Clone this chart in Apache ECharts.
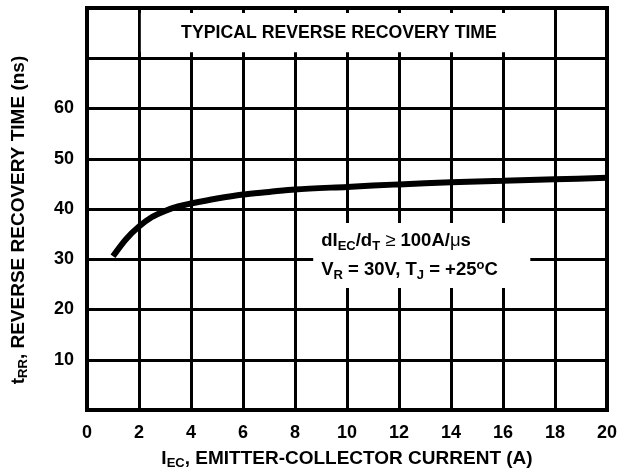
<!DOCTYPE html>
<html>
<head>
<meta charset="utf-8">
<script src="https://cdn.jsdelivr.net/npm/echarts@6/dist/echarts.min.js"></script>
<style>
  html, body { margin: 0; padding: 0; background: #fff; }
  #chart { width: 627px; height: 475px; }
</style>
</head>
<body>
<div id="chart"></div>
<script>
  // I_EC (A) vs t_RR (ns)
  var currentA = [1, 1.5, 2, 2.5, 3, 3.5, 4, 5, 6, 7, 8, 10, 12, 14, 16, 18, 20]
  var trrNs = [30.6, 34.0, 36.5, 38.4, 39.6, 40.5, 41.1, 42.1, 42.9, 43.4, 43.9, 44.4, 44.9, 45.3, 45.6, 45.9, 46.2]
  var yLabels = [10, 20, 30, 40, 50, 60]

  var font = '"Liberation Sans", Arial, sans-serif'
  var sub = { fontSize: 13, fontWeight: 'bold', fontFamily: font, color: '#000', padding: [10, 0, 0, 0] }
  var sup = { fontSize: 13, fontWeight: 'bold', fontFamily: font, color: '#000', padding: [0, 0, 10, 0] }
  var main = { fontSize: 19, fontWeight: 'bold', fontFamily: font, color: '#000' }
  var note = { fontSize: 18.5, fontWeight: 'bold', fontFamily: font, color: '#000' }
  var sym = { fontSize: 18.5, fontWeight: 'normal', fontFamily: font, color: '#000' }

  var chart = echarts.init(document.getElementById('chart'))
  chart.setOption({
    animation: false,
    grid: {
      left: 87,
      right: 20,
      top: 8,
      bottom: 62,
      show: true,
      borderColor: '#000',
      borderWidth: 4
    },
    xAxis: {
      type: 'value',
      min: 0,
      max: 20,
      interval: 2,
      axisLine: { show: false },
      axisTick: { show: false },
      splitLine: { show: true, lineStyle: { color: '#000', width: 3 } },
      axisLabel: { margin: 14, color: '#000', fontSize: 18, fontWeight: 'bold', fontFamily: font },
      name: '{m|I}{s|EC}{m|, EMITTER-COLLECTOR CURRENT (A)}',
      nameLocation: 'middle',
      nameGap: 37,
      nameTextStyle: { rich: { m: main, s: sub } }
    },
    yAxis: {
      type: 'value',
      min: 0,
      max: 80,
      interval: 10,
      axisLine: { show: false },
      axisTick: { show: false },
      splitLine: { show: true, lineStyle: { color: '#000', width: 3 } },
      axisLabel: {
        margin: 13,
        color: '#000',
        fontSize: 18,
        fontWeight: 'bold',
        fontFamily: font,
        formatter: function (v) { return yLabels.indexOf(v) >= 0 ? String(v) : '' }
      },
      name: '{m|t}{s|RR}{m|, REVERSE RECOVERY TIME (ns)}',
      nameLocation: 'middle',
      nameGap: 57,
      nameTextStyle: { padding: [0, 22, 0, 0], rich: { m: main, s: sub } }
    },
    series: [{
      type: 'line',
      data: currentA.map(function (x, i) { return [x, trrNs[i]] }),
      smooth: 0.3,
      showSymbol: false,
      lineStyle: { color: '#000', width: 6 },
      z: 5,
      markArea: {
        silent: true,
        itemStyle: { color: '#fff' },
        data: [
          [{
            coord: [2.07, 79.0],
            label: {
              show: true,
              position: 'inside',
              offset: [-8, 0],
              formatter: 'TYPICAL REVERSE RECOVERY TIME',
              color: '#000',
              fontSize: 17.7,
              fontWeight: 'bold',
              fontFamily: font
            }
          }, { coord: [17.93, 71.2] }],
          [{
            coord: [8.7, 37.2],
            label: {
              show: true,
              position: 'insideLeft',
              distance: 8,
              lineHeight: 29,
              formatter: [
                '{m|dI}{s|EC}{m|/d}{s|T}{g| \u2265 }{m|100A/}{g|\u03bc}{m|s}',
                '{m|V}{s|R}{m| = 30V, T}{s|J}{m| = +25}{u|o}{m|C}'
              ].join('\n'),
              rich: { m: note, s: sub, u: sup, g: sym }
            }
          }, { coord: [17.05, 24.3] }]
        ]
      }
    }]
  })
</script>
</body>
</html>
